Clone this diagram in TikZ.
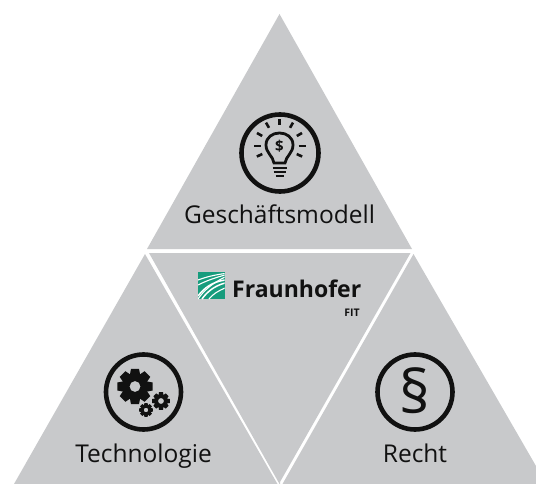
\documentclass[tikz,border=0pt]{standalone}
\usepackage{fontspec}
\usetikzlibrary{calc}
\setmainfont{Open Sans}
\definecolor{tri}{HTML}{C8C9CB}
\definecolor{ink}{HTML}{111111}
\definecolor{fhgreen}{HTML}{179C7D}
\tikzset{
  tripart/.style={fill=tri,draw=none},
  ring/.style={draw=ink,line width=4.6pt,fill=none},
  lab/.style={inner sep=0pt,anchor=base,text=ink,font=\fontsize{24.5}{27}\selectfont},
  ray/.style={draw=ink,line width=2.6pt},
  bulb/.style={draw=ink,line width=2.8pt,line cap=round},
  stripe/.style={draw=white,line width=1.1pt},
  pics/gearwheel/.style n args={3}{code={
    \fill[ink,even odd rule]
      (-13:#1)
      \foreach \a in {0,45,...,315}{
        -- (\a-13:#1) -- (\a+13:#1) -- (\a+23:#2) -- (\a+45-23:#2)
      } -- cycle (0,0) circle (#3);
  }}
}
\begin{document}
\begin{tikzpicture}[x=1pt,y=-1pt]
\useasboundingbox (0,0) rectangle (536,484);
% triangles
\fill[tripart] (279.5,14) -- (412,249) -- (147,249) -- cycle;
\fill[tripart] (149,253) -- (410.5,253) -- (280,482) -- (280,484) -- (279.5,484) -- cycle;
\fill[tripart] (145,254) -- (277.5,484) -- (14,484) -- cycle;
\fill[tripart] (413.5,254) -- (536,466) -- (536,484) -- (282.5,484) -- cycle;
% rings
\draw[ring] (280,153) circle (38.5);
\draw[ring] (143.5,392) circle (37.5);
\draw[ring] (415,392) circle (37.5);
% bulb icon
\draw[bulb] (274,163) .. controls (273,156) and (266,153) .. (266,145) .. controls (266,129) and (293,129) .. (293,145) .. controls (293,153) and (286,156) .. (285,163) -- cycle;
\foreach \yy/\hw in {168/7,172/6,176/4}
  \draw[ink,line width=2.2pt] (279.5-\hw,\yy) -- (279.5+\hw,\yy);
\foreach \a/\ra/\rb in {-90/21/27,-60/21/27,-120/21/27,-30/20/26,-150/20/26,0/19/26,180/19/26,25/19/25,155/19/25}
  \draw[ray] ($(279.5,146)+(\a:\ra)$) -- ($(279.5,146)+(\a:\rb)$);
\node[inner sep=0pt,text=ink,font=\bfseries\fontsize{15}{15}\selectfont] (dollar) at (279.5,146) {\$};
% gears
\pic at (135,386.5) {gearwheel={18}{13}{5.5}};
\pic at (161,401) {gearwheel={9}{6.3}{3}};
\pic at (146,410) {gearwheel={7}{5}{2.3}};
% paragraph
\node[inner sep=0pt,text=ink,font=\fontsize{60}{62}\selectfont] (para) at (415,391) {§};
% labels
\node[lab] (gm) at (279.5,223) {Geschäftsmodell};
\node[lab] (tech) at (143.5,462) {Technologie};
\node[lab] (recht) at (415,462) {Recht};
% logo
\fill[fhgreen] (198,272) rectangle (224.5,299);
\begin{scope}
\clip (198,272) rectangle (224.5,299);
\draw[stripe] (198,299) .. controls (204,290) and (213,283) .. (225,277);
\draw[stripe,line width=1.5pt] (198,296) .. controls (204,288) and (212,282) .. (225,280);
\draw[stripe,line width=1.5pt] (202,299) .. controls (207,292) and (214,286) .. (225,283);
\draw[stripe] (198,285) .. controls (206,281) and (214,278) .. (225,275);
\draw[stripe] (198,280) .. controls (206,277) and (214,275) .. (225,273.5);
\draw[stripe] (209,299) .. controls (213,294) and (218,291) .. (225,288);
\end{scope}
\node[inner sep=0pt,anchor=base west,text=ink,font=\bfseries\fontsize{23}{25}\selectfont] (fh) at (232,297) {Fraunhofer};
\node[inner sep=0pt,anchor=base east,text=ink,font=\bfseries\fontsize{10.5}{11}\selectfont] (fit) at (360,316) {FIT};
\end{tikzpicture}
\end{document}
